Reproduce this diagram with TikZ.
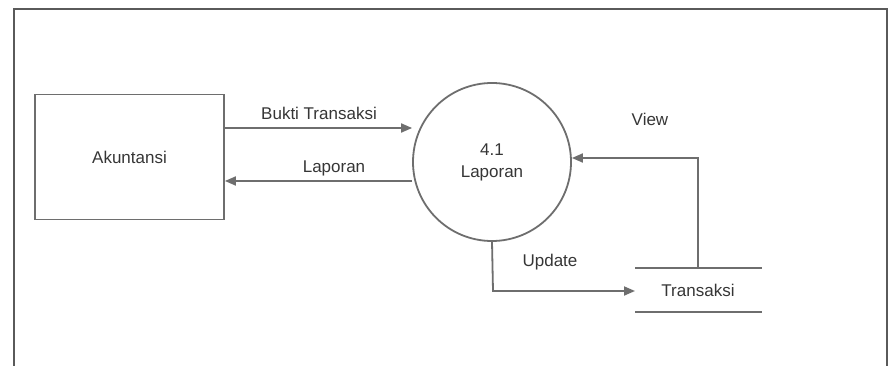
\documentclass[tikz,border=0pt]{standalone}
\usepackage{fontspec}
\setmainfont{Liberation Sans}
\usetikzlibrary{arrows.meta}
\definecolor{linegray}{HTML}{6E6E6E}
\definecolor{framegray}{HTML}{5A5A5A}
\definecolor{textgray}{HTML}{363636}
\begin{document}
\begin{tikzpicture}[x=1pt,y=-1pt,
  flow/.style={draw=linegray,line width=1.8pt,-{Triangle[length=11pt,width=9pt]}},
  lbl/.style={text=textgray,font=\fontsize{17}{19}\selectfont,inner sep=0pt},
  entity/.style={draw=linegray,line width=1.8pt,minimum width=189pt,minimum height=125pt,
    text=textgray,font=\fontsize{17}{19}\selectfont},
  process/.style={draw=linegray,line width=1.8pt,circle,minimum size=158pt,inner sep=0pt,
    text=textgray,font=\fontsize{17}{22}\selectfont,align=center}]
  \useasboundingbox (0,0) rectangle (896,366);
  \fill[white] (0,0) rectangle (896,366);
  % outer frame, open at the bottom
  \draw[framegray,line width=2.4pt] (14,372) -- (14,9) -- (887,9) -- (887,372);

  % entity, process and data store
  \node[entity] (akun) at (129.5,157) {Akuntansi};
  \node[process] (proc) at (492,162) {4.1\\Laporan};
  \node[lbl] (store) at (698,290) {Transaksi};
  \coordinate (stTL) at (635,268);
  \coordinate (stTR) at (762,268);
  \coordinate (stBL) at (635,312);
  \coordinate (stBR) at (762,312);
  \draw[linegray,line width=1.8pt] (stTL) -- (stTR);
  \draw[linegray,line width=1.8pt] (stBL) -- (stBR);

  % flows between entity and process
  \draw[flow] (akun.east |- 0,128) -- (proc.west |- 0,128);
  \draw[flow] (proc.west |- 0,181) -- (akun.east |- 0,181);
  \node[lbl] (lbBukti) at (319,113) {Bukti Transaksi};
  \node[lbl] (lbLap) at (334,168) {Laporan};

  % view: store to process
  \coordinate (viewCorner) at (698,158);
  \draw[flow] (698,268) -- (viewCorner) -- (proc.east |- viewCorner);
  \node[lbl] (lbView) at (650,119) {View};

  % update: process to store
  \coordinate (updCorner) at (493,291);
  \draw[flow] (proc.south) -- (updCorner) -- (635,291);
  \node[lbl] (lbUpd) at (550,262) {Update};
\end{tikzpicture}
\end{document}
